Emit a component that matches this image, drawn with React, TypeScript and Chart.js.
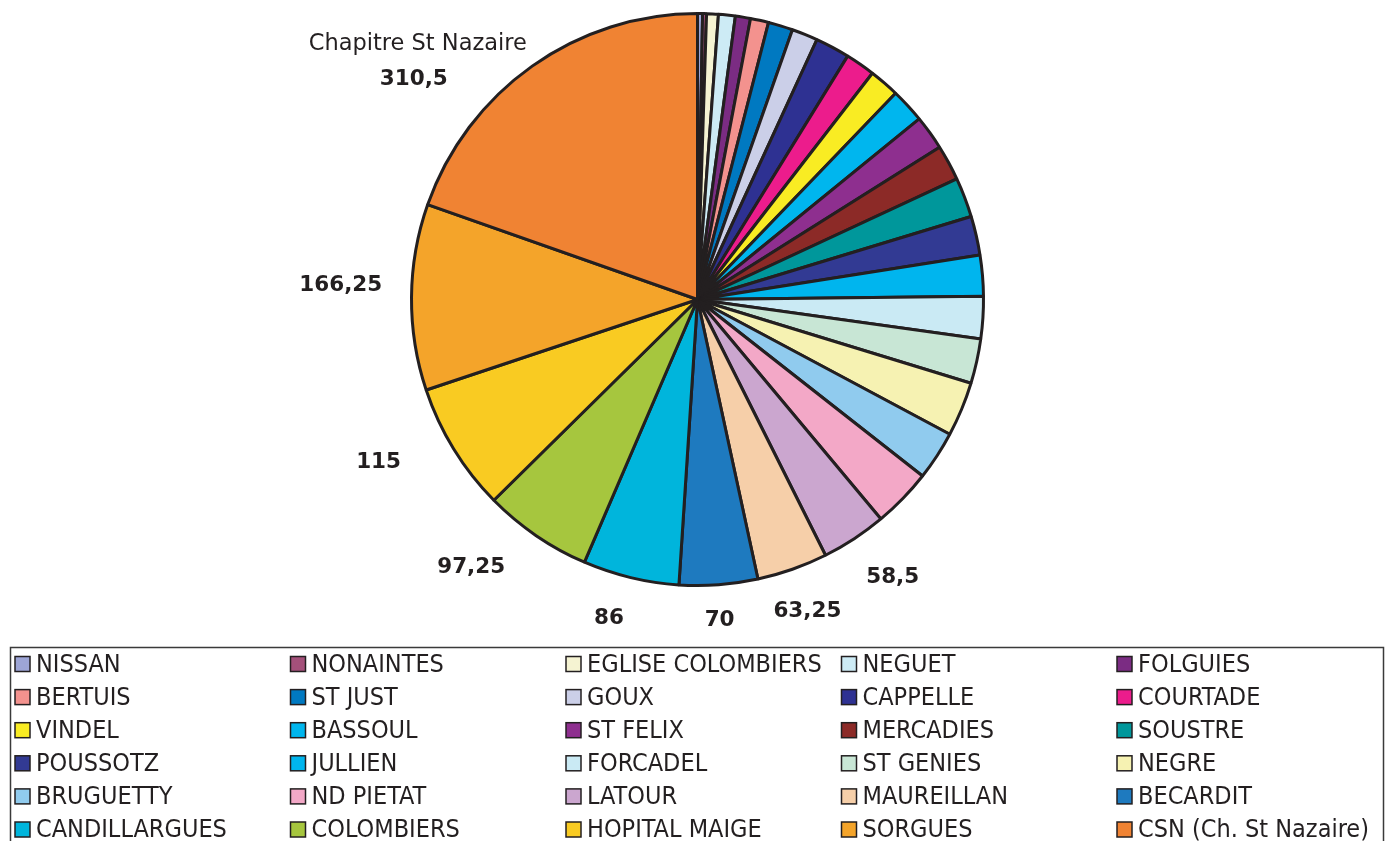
import React, { useEffect, useRef } from 'react';
import { Chart, registerables } from 'chart.js';

Chart.register(...registerables);

const categories = [
  'NISSAN', 'NONAINTES', 'EGLISE COLOMBIERS', 'NEGUET', 'FOLGUIES',
  'BERTUIS', 'ST JUST', 'GOUX', 'CAPPELLE', 'COURTADE',
  'VINDEL', 'BASSOUL', 'ST FELIX', 'MERCADIES', 'SOUSTRE',
  'POUSSOTZ', 'JULLIEN', 'FORCADEL', 'ST GENIES', 'NEGRE',
  'BRUGUETTY', 'ND PIETAT', 'LATOUR', 'MAUREILLAN', 'BECARDIT',
  'CANDILLARGUES', 'COLOMBIERS', 'HOPITAL MAIGE', 'SORGUES', 'CSN',
];

const legendNames = categories.map((c) => (c === 'CSN' ? 'CSN (Ch. St Nazaire)' : c));

const values = [
  4.5, 3.5, 10.5, 15, 13.5,
  16.25, 22, 23.25, 30.75, 26.5,
  27, 30.75, 30.75, 31.75, 35.5,
  34.75, 36.5, 37.75, 40, 48.75,
  44, 52.75, 58.5, 63.25, 70,
  86, 97.25, 115, 166.25, 310.5,
];

const colors = [
  '#9DA5D6', '#A4507A', '#F5F3D2', '#CDEBF5', '#7B2C83',
  '#F3928E', '#0079C1', '#CBCFE8', '#2E3192', '#EC1C8C',
  '#F9EC23', '#00B6EE', '#8E2F8F', '#8C2A27', '#00979B',
  '#323A93', '#00B5EE', '#CAEAF4', '#C8E6D5', '#F6F2B2',
  '#90CBEE', '#F3A8C7', '#CBA6CF', '#F6CFA9', '#1E7ABF',
  '#00B5DC', '#A6C63E', '#F9CB22', '#F4A42A', '#F08333',
];

const labeledIndices = [22, 23, 24, 25, 26, 27, 28, 29];
const csnTitle = 'Chapitre St Nazaire';

// label placement nudges: [angle shift in degrees, extra radius px]
const labelNudges: Record<number, [number, number]> = {
  22: [-1.8, 54],
  23: [0, 45],
  24: [0.3, 36],
  25: [2, 45],
  26: [5.8, 65],
  27: [4.5, 72],
  28: [1.75, 71],
  29: [-16.9, 73],
};

const TEXT = '#231f20';

const fmt = (v: number) => String(v).replace('.', ',');

const labelPlugin = {
  id: 'sliceLabels',
  afterDatasetsDraw(chart: any) {
    const ctx = chart.ctx;
    const meta = chart.getDatasetMeta(0);
    ctx.save();
    ctx.fillStyle = TEXT;
    ctx.textAlign = 'center';
    ctx.textBaseline = 'middle';
    labeledIndices.forEach((i) => {
      const arc = meta.data[i];
      const p = arc.getProps(['x', 'y', 'startAngle', 'endAngle', 'outerRadius'], true);
      const [shift, extra] = labelNudges[i] || [0, 40];
      const mid = (p.startAngle + p.endAngle) / 2 + (shift * Math.PI) / 180;
      const R = p.outerRadius + extra;
      const x = p.x + R * Math.cos(mid);
      const y = p.y + R * Math.sin(mid);
      ctx.font = 'bold 21.5px "DejaVu Sans", Verdana, sans-serif';
      ctx.fillText(fmt(values[i]), x, y);
      if (categories[i] === 'CSN') {
        ctx.font = '22.5px "DejaVu Sans", Verdana, sans-serif';
        ctx.fillText(csnTitle, x + 4, y - 35);
      }
    });
    ctx.restore();
  },
};

const legendPlugin = {
  id: 'gridLegend',
  afterDraw(chart: any) {
    const ctx = chart.ctx;
    const ds = chart.data.datasets[0];
    ctx.save();
    ctx.strokeStyle = '#3a3a3a';
    ctx.lineWidth = 1.5;
    ctx.strokeRect(10.5, 647.5, 1373, 220);
    ctx.font = '25px "DejaVu Sans Condensed", "DejaVu Sans", sans-serif';
    ctx.textBaseline = 'middle';
    ctx.textAlign = 'left';
    legendNames.forEach((name, i) => {
      const col = i % 5;
      const row = Math.floor(i / 5);
      const x = 15 + col * 275.5;
      const yc = 664 + row * 33.1;
      ctx.fillStyle = ds.backgroundColor[i];
      ctx.fillRect(x, yc - 7.5, 15, 15);
      ctx.strokeStyle = TEXT;
      ctx.lineWidth = 1.5;
      ctx.strokeRect(x, yc - 7.5, 15, 15);
      ctx.fillStyle = TEXT;
      ctx.fillText(name, x + 21, yc + 1);
    });
    ctx.restore();
  },
};

export default function App() {
  const ref = useRef<HTMLCanvasElement | null>(null);
  useEffect(() => {
    document.body.style.margin = '0';
    const canvas = ref.current;
    if (!canvas) return;
    const chart = new Chart(canvas, {
      type: 'pie',
      data: {
        labels: categories,
        datasets: [
          {
            data: values,
            backgroundColor: colors,
            borderColor: TEXT,
            borderWidth: 3,
            hoverOffset: 0,
          },
        ],
      },
      options: {
        responsive: false,
        animation: false,
        devicePixelRatio: 1,
        layout: { padding: { left: 410, top: 12, right: 400, bottom: 254 } },
        plugins: {
          legend: { display: false },
          tooltip: { enabled: false },
          title: { display: false },
        },
      },
      plugins: [labelPlugin, legendPlugin],
    } as any);
    return () => chart.destroy();
  }, []);
  return (
    <div style={{ position: 'absolute', left: 0, top: 0, width: 1385, height: 841, background: '#fff' }}>
      <canvas ref={ref} width={1385} height={841} />
    </div>
  );
}
